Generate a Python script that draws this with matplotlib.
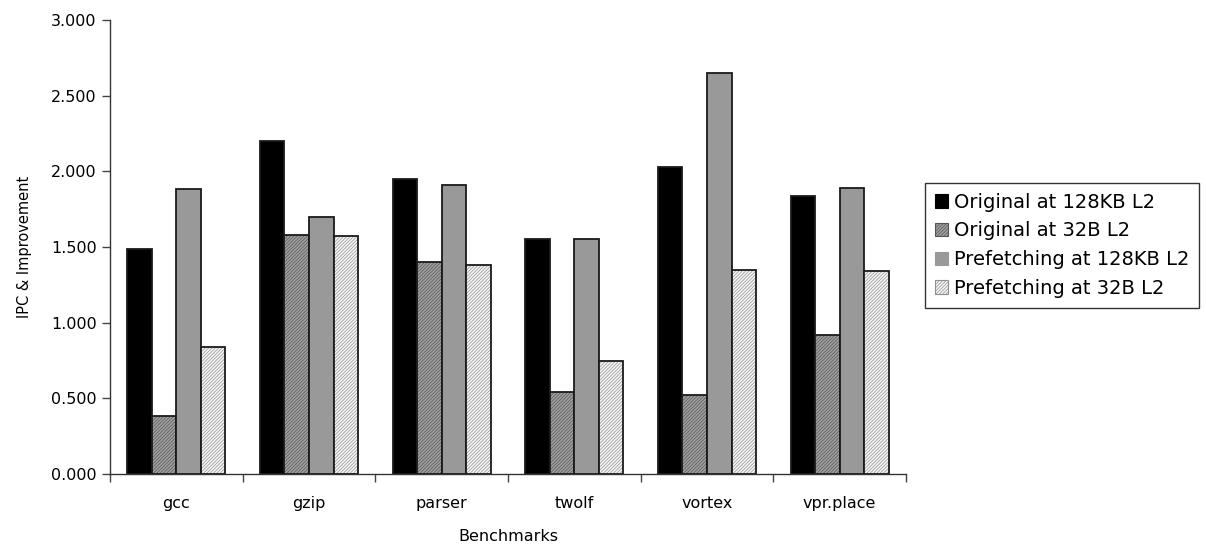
import numpy as np
import matplotlib.pyplot as plt
from matplotlib.patches import Patch
from matplotlib.ticker import FormatStrFormatter

benchmarks = ['gcc', 'gzip', 'parser', 'twolf', 'vortex', 'vpr.place']
series_names = ['Original at 128KB L2', 'Original at 32B L2',
                'Prefetching at 128KB L2', 'Prefetching at 32B L2']
orig_128kb = [1.49, 2.20, 1.95, 1.55, 2.03, 1.84]
orig_32b = [0.38, 1.58, 1.40, 0.54, 0.52, 0.92]
pref_128kb = [1.88, 1.70, 1.91, 1.55, 2.65, 1.89]
pref_32b = [0.84, 1.57, 1.38, 0.75, 1.35, 1.34]

plt.rcParams['font.family'] = ['DejaVu Sans']
plt.rcParams['hatch.linewidth'] = 0.5

# face, hatch colour, hatch pattern
styles = [('black', 'black', None),
          ('#a0a0a0', '#555555', '//////////'),
          ('#999999', '#999999', None),
          ('#f6f6f6', '#909090', '//////////')]

fig = plt.figure(figsize=(12.06, 5.48), dpi=100)
ax = fig.add_axes([110 / 1206, 1 - 474 / 548, 796 / 1206, 454 / 548])

x = np.arange(len(benchmarks)) + 0.5
w = 1 / 5.4
data = [orig_128kb, orig_32b, pref_128kb, pref_32b]
handles = []
for i, vals in enumerate(data):
    face, hcol, hatch = styles[i]
    pos = x + (i - 1.5) * w
    ax.bar(pos, vals, w, color=face, edgecolor=hcol, hatch=hatch, linewidth=0)
    ax.bar(pos, vals, w, fill=False, edgecolor='#1a1a1a', linewidth=1.3)
    handles.append(Patch(facecolor=face, edgecolor=hcol, hatch=hatch,
                         linewidth=0.8, label=series_names[i]))

ax.set_xlim(0, 6)
ax.set_ylim(0, 3)
ax.set_yticks(np.arange(0, 3.01, 0.5))
ax.yaxis.set_major_formatter(FormatStrFormatter('%.3f'))
ax.set_xticks(np.arange(0, 7))
ax.set_xticklabels([])
ax.set_xticks(x, minor=True)
ax.set_xticklabels(benchmarks, minor=True)
ax.tick_params(axis='x', which='minor', length=0, pad=16, labelsize=11.5)
ax.tick_params(axis='x', which='major', length=6, width=1, color='#444444')
ax.tick_params(axis='y', length=6, width=1, labelsize=11.5, color='#444444')
for s in ['top', 'right']:
    ax.spines[s].set_visible(False)
for s in ['left', 'bottom']:
    ax.spines[s].set_color('#333333')
    ax.spines[s].set_linewidth(1)

ax.set_xlabel('Benchmarks', fontsize=11.5, labelpad=13)
ax.set_ylabel('IPC & Improvement', fontsize=10.5, labelpad=14)

leg = fig.legend(handles=handles, loc='upper left',
                 bbox_to_anchor=(925 / 1206, 1 - 183 / 548),
                 frameon=True, fancybox=False, fontsize=14,
                 handlelength=0.7, handleheight=0.7, handletextpad=0.3,
                 borderpad=0.5, labelspacing=0.5, borderaxespad=0)
leg.get_frame().set_edgecolor('black')
leg.get_frame().set_linewidth(1)

fig.savefig('out.png', dpi=100)
